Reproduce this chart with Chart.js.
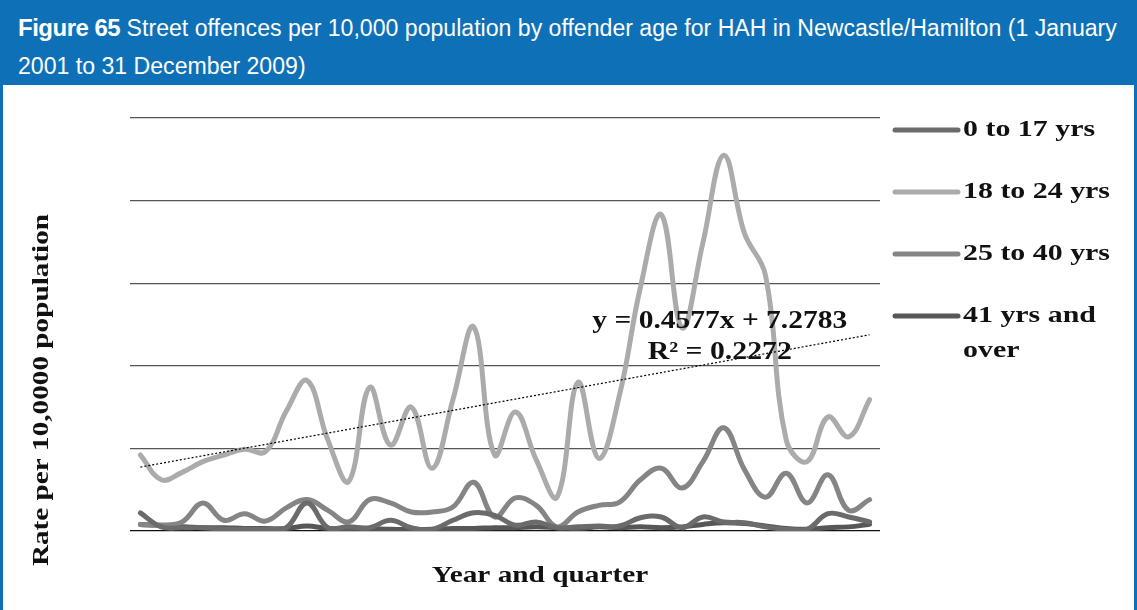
<!DOCTYPE html>
<html>
<head>
<meta charset="utf-8">
<script src="https://cdn.jsdelivr.net/npm/chart.js@4.4.1/dist/chart.umd.min.js"></script>
<style>
  html, body { margin: 0; padding: 0; background: #fff; }
  body { width: 1137px; height: 610px; overflow: hidden; position: relative; }
  #frame { position: absolute; left: 0; top: 0; width: 1131px; height: 610px;
           border-left: 3px solid #0e71b8; border-right: 3px solid #0e71b8; }
  #header { position: absolute; left: 0; top: 0; width: 1137px; height: 85px; background: #0e71b8;
            color: #fff; font-family: "Liberation Sans", Arial, sans-serif;
            font-size: 23.1px; line-height: 38px; box-sizing: border-box; padding: 9px 0 0 18px; white-space: nowrap; }
  #header b { font-weight: 900; font-size: 24px; letter-spacing: -0.5px; }
  #wrap { position: absolute; left: 4px; top: 85px; width: 1129px; height: 525px; }
</style>
</head>
<body>
<div id="frame"></div>
<div id="header"><div><b>Figure 65</b> Street offences per 10,000 population by offender age for HAH in Newcastle/Hamilton (1 January</div><div>2001 to 31 December 2009)</div></div>
<div id="wrap"><canvas id="offenceChart"></canvas></div>
<script>
const years = [2001, 2002, 2003, 2004, 2005, 2006, 2007, 2008, 2009];
const quarters = ['Q1', 'Q2', 'Q3', 'Q4'];
const labels = [];
years.forEach(y => quarters.forEach(q => labels.push(y + ' ' + q)));

const seriesNames = ['0 to 17 yrs', '18 to 24 yrs', '25 to 40 yrs', '41 yrs and over'];
const seriesColors = ['#6b6b6b', '#ababab', '#858585', '#575757'];

const age0to17 = [2.2, 0.5, 0.4, 0.4, 0.2, 0.2, 0.2, 0.4, 3.4, 0.4, 0.5, 0.4,
                  1.3, 0.4, 0.2, 1.3, 2.2, 1.9, 0.7, 1.1, 0.4, 0.5, 0.6, 0.6,
                  1.6, 1.7, 0.4, 1.7, 1.1, 1.0, 0.5, 0.2, 0.2, 2.1, 1.7, 1.1];
const age18to24 = [9.2, 6.2, 7.1, 8.4, 9.2, 9.9, 9.6, 14.5, 18.2, 11.0, 6.0, 17.4,
                   10.4, 15.0, 7.6, 15.9, 24.7, 9.2, 14.4, 8.6, 4.1, 18.0, 8.8, 16.5,
                   29.5, 38.3, 24.6, 34.9, 45.5, 36.0, 31.0, 11.0, 8.4, 13.8, 11.4, 15.9];
const age25to40 = [0.8, 0.7, 1.1, 3.4, 1.3, 2.1, 1.2, 2.8, 3.8, 2.5, 1.1, 3.8,
                   3.4, 2.3, 2.3, 2.9, 5.9, 1.7, 4.0, 3.1, 0.5, 2.3, 3.1, 3.5,
                   6.2, 7.6, 5.2, 8.4, 12.5, 7.4, 4.1, 7.0, 3.4, 6.8, 2.5, 3.8];
const age41plus = [0.8, 0.7, 0.5, 0.4, 0.4, 0.3, 0.3, 0.3, 0.6, 0.3, 0.3, 0.3,
                   0.2, 0.2, 0.2, 0.3, 0.3, 0.4, 0.4, 0.5, 0.4, 0.3, 0.5, 0.4,
                   0.5, 0.4, 0.5, 0.8, 1.0, 0.9, 0.6, 0.3, 0.2, 0.4, 0.5, 0.8];

// linear trend shown on the chart for 18 to 24 yrs
const trendSlope = 0.4577;
const trendIntercept = 7.2783;
const trendR2 = 0.2272;
const trend = labels.map((_, i) => trendSlope * (i + 1) + trendIntercept);

const serif = '"Liberation Serif", "Times New Roman", serif';

const lineSet = (i, data) => ({
  label: seriesNames[i],
  data: data,
  borderColor: seriesColors[i],
  borderWidth: 5,
  pointRadius: 0,
  tension: 0.4,
  borderCapStyle: 'round',
  fill: false
});

// text in the original is drawn a bit wider than the font, so stretch it
function wideText(c, text, x, y, size, sx, align) {
  c.save();
  c.translate(x, y);
  c.scale(sx, 1);
  c.font = 'bold ' + size + 'px ' + serif;
  c.textAlign = align;
  c.textBaseline = 'middle';
  c.fillText(text, 0, 0);
  c.restore();
}

const extras = {
  id: 'extras',
  afterDatasetsDraw(chart) {
    const c = chart.ctx, a = chart.chartArea;
    const xs = chart.scales.x, ys = chart.scales.y;
    c.save();
    c.fillStyle = '#111';

    // trend label
    const tx = xs.getPixelForValue(28) - 4;
    wideText(c, 'y = ' + trendSlope + 'x + ' + trendIntercept, tx, ys.getPixelForValue(25.4), 25, 1.18, 'center');
    wideText(c, 'R² = ' + trendR2, tx, ys.getPixelForValue(21.6), 25, 1.19, 'center');

    // axis titles
    wideText(c, 'Year and quarter', a.left + 410, a.bottom + 45, 24, 1.22, 'center');
    c.save();
    c.translate(38, a.top + 272);
    c.rotate(-Math.PI / 2);
    wideText(c, 'Rate per 10,0000 population', 0, 0, 23, 1.27, 'center');
    c.restore();

    // legend
    chart.data.datasets.slice(0, 4).forEach((ds, i) => {
      const y = a.top + 12 + i * 62;
      c.strokeStyle = ds.borderColor;
      c.lineWidth = 5;
      c.lineCap = 'round';
      c.beginPath();
      c.moveTo(a.right + 15, y);
      c.lineTo(a.right + 78, y);
      c.stroke();
      const words = ds.label === '41 yrs and over' ? ['41 yrs and', 'over'] : [ds.label];
      words.forEach((w, k) => wideText(c, w, a.right + 83, y + k * 35, 23, 1.3, 'left'));
    });
    c.restore();
  }
};

new Chart(document.getElementById('offenceChart'), {
  type: 'line',
  data: {
    labels: labels,
    datasets: [
      lineSet(0, age0to17),
      lineSet(1, age18to24),
      lineSet(2, age25to40),
      lineSet(3, age41plus),
      {
        label: 'Linear (18 to 24 yrs)',
        data: trend,
        borderColor: '#000',
        borderWidth: 1.2,
        borderDash: [2, 2],
        pointRadius: 0,
        tension: 0,
        fill: false,
        order: -1
      }
    ]
  },
  options: {
    responsive: true,
    maintainAspectRatio: false,
    animation: false,
    layout: { padding: { left: 126, right: 253, top: 33, bottom: 79 } },
    plugins: {
      legend: { display: false },
      tooltip: { enabled: false }
    },
    scales: {
      x: {
        offset: true,
        grid: { display: false, drawTicks: false },
        border: { display: false },
        ticks: { display: false }
      },
      y: {
        min: 0,
        max: 50,
        ticks: { display: false, stepSize: 10 },
        border: { display: false },
        grid: {
          drawTicks: false,
          lineWidth: 1.3,
          color: ctx => ctx.tick && ctx.tick.value === 0 ? '#111' : '#555'
        }
      }
    }
  },
  plugins: [extras]
});
</script>
</body>
</html>
